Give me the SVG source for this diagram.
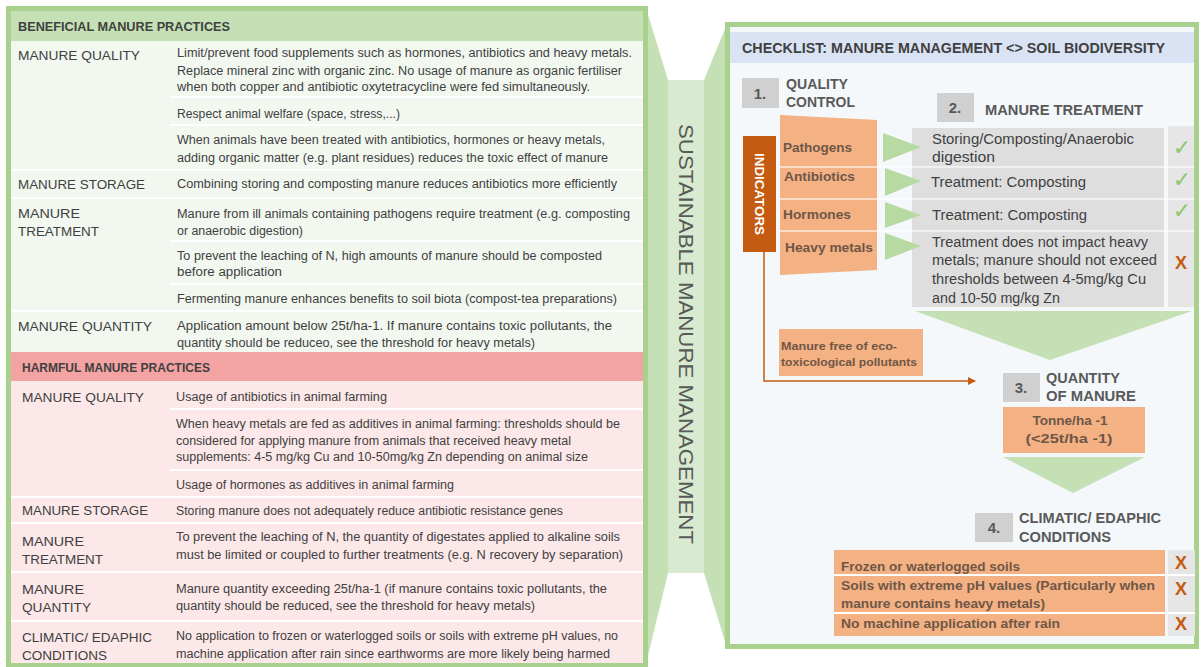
<svg xmlns="http://www.w3.org/2000/svg" width="1201" height="667" viewBox="0 0 1201 667">
<defs>
<style>
text{font-family:"Liberation Sans",Arial,sans-serif;}
.lbl{font-size:13px;fill:#404040;}
.d{font-size:12.5px;fill:#404040;}
.hd{font-size:13px;font-weight:bold;fill:#404040;}
.st{font-size:14px;font-weight:bold;fill:#595959;}
.num{font-size:15px;font-weight:bold;fill:#595959;}
.ind{font-size:13px;font-weight:bold;fill:#6f5747;}
.tr{font-size:14px;fill:#404040;}
.cond{font-size:13px;font-weight:bold;fill:#6f5747;}
.chk{font-family:"DejaVu Sans",sans-serif;font-size:22px;fill:#8cc56e;}
.x{font-size:18px;font-weight:bold;fill:#c55a11;}
.sep{stroke:#ffffff;stroke-width:2;}
.gbox{fill:#d0d0d0;}
.orange{fill:#f4b183;}
.garrow{fill:#b7d9a2;}
.chev{fill:#c5e0b4;}
</style>
<marker id="ah" markerWidth="8" markerHeight="8" refX="7" refY="4" orient="auto" markerUnits="userSpaceOnUse">
<path d="M0,0 L8,4 L0,8 Z" fill="#c55a11"/>
</marker>
</defs>
<rect width="1201" height="667" fill="#ffffff"/>

<!-- Middle band -->
<g id="middle-band">
<polygon points="646,8 668,80 668,573 646,664" fill="#c5e0b4"/>
<polygon points="704,80 727,24 727,648 704,573" fill="#c5e0b4"/>
<rect x="668" y="80" width="36" height="493" fill="#d8eacf"/>
<text transform="translate(679,334) rotate(90)" text-anchor="middle" style="font-size:20px;fill:#595959;" textLength="420" lengthAdjust="spacingAndGlyphs">SUSTAINABLE MANURE MANAGEMENT</text>
</g>

<!-- Left panel -->
<g id="left-panel">
<rect x="8.5" y="8.5" width="637" height="656" fill="#f2f8f0" stroke="#a9d18e" stroke-width="5"/>
<rect x="11" y="11" width="632" height="30" fill="#c5e0b4"/>
<text class="hd" x="18" y="31" textLength="212" lengthAdjust="spacingAndGlyphs">BENEFICIAL MANURE PRACTICES</text>
<g id="beneficial-rows">
<line class="sep" x1="170" y1="97" x2="643" y2="97"/>
<line class="sep" x1="170" y1="125" x2="643" y2="125"/>
<line class="sep" x1="11" y1="170" x2="643" y2="170"/>
<line class="sep" x1="11" y1="198" x2="643" y2="198"/>
<line class="sep" x1="170" y1="241" x2="643" y2="241"/>
<line class="sep" x1="170" y1="284" x2="643" y2="284"/>
<line class="sep" x1="11" y1="311" x2="643" y2="311"/>
<text class="lbl" x="18" y="60" textLength="122" lengthAdjust="spacingAndGlyphs">MANURE QUALITY</text>
<text class="d" x="177" y="57" textLength="455" lengthAdjust="spacingAndGlyphs">Limit/prevent food supplements such as hormones, antibiotics and heavy metals.</text>
<text class="d" x="177" y="75" textLength="445" lengthAdjust="spacingAndGlyphs">Replace mineral zinc with organic zinc. No usage of manure as organic fertiliser</text>
<text class="d" x="177" y="91" textLength="413" lengthAdjust="spacingAndGlyphs">when both copper and antibiotic oxytetracycline were fed simultaneously.</text>
<text class="d" x="177" y="118" textLength="223" lengthAdjust="spacingAndGlyphs">Respect animal welfare (space, stress,...)</text>
<text class="d" x="177" y="144" textLength="428" lengthAdjust="spacingAndGlyphs">When animals have been treated with antibiotics, hormones or heavy metals,</text>
<text class="d" x="177" y="162" textLength="431" lengthAdjust="spacingAndGlyphs">adding organic matter (e.g. plant residues) reduces the toxic effect of manure</text>
<text class="lbl" x="18" y="189" textLength="127" lengthAdjust="spacingAndGlyphs">MANURE STORAGE</text>
<text class="d" x="177" y="188" textLength="440" lengthAdjust="spacingAndGlyphs">Combining storing and composting manure reduces antibiotics more efficiently</text>
<text class="lbl" x="18" y="218" textLength="62" lengthAdjust="spacingAndGlyphs">MANURE</text>
<text class="lbl" x="18" y="236" textLength="81" lengthAdjust="spacingAndGlyphs">TREATMENT</text>
<text class="d" x="177" y="218" textLength="453" lengthAdjust="spacingAndGlyphs">Manure from ill animals containing pathogens require treatment (e.g. composting</text>
<text class="d" x="177" y="235" textLength="126" lengthAdjust="spacingAndGlyphs">or anaerobic digestion)</text>
<text class="d" x="177" y="260" textLength="425" lengthAdjust="spacingAndGlyphs">To prevent the  leaching of N, high amounts of manure should be composted</text>
<text class="d" x="177" y="276" textLength="105" lengthAdjust="spacingAndGlyphs">before application</text>
<text class="d" x="177" y="303" textLength="440" lengthAdjust="spacingAndGlyphs">Fermenting manure enhances benefits to soil biota (compost-tea preparations)</text>
<text class="lbl" x="18" y="331" textLength="134" lengthAdjust="spacingAndGlyphs">MANURE QUANTITY</text>
<text class="d" x="177" y="330" textLength="435" lengthAdjust="spacingAndGlyphs">Application amount below 25t/ha-1. If manure contains toxic pollutants, the</text>
<text class="d" x="177" y="347" textLength="358" lengthAdjust="spacingAndGlyphs">quantity should be reduceo, see the threshold for heavy metals)</text>
</g>
<rect x="11" y="352" width="632" height="29" fill="#f4a3a3"/>
<text class="hd" x="22" y="372" textLength="188" lengthAdjust="spacingAndGlyphs">HARMFUL MANURE PRACTICES</text>
<rect x="11" y="381" width="632" height="282" fill="#fce8e9"/>
<g id="harmful-rows">
<line class="sep" x1="170" y1="409" x2="643" y2="409"/>
<line class="sep" x1="170" y1="470" x2="643" y2="470"/>
<line class="sep" x1="11" y1="497" x2="643" y2="497"/>
<line class="sep" x1="11" y1="523" x2="643" y2="523"/>
<line class="sep" x1="11" y1="572" x2="643" y2="572"/>
<line class="sep" x1="11" y1="621" x2="643" y2="621"/>
<text class="lbl" x="22" y="402" textLength="122" lengthAdjust="spacingAndGlyphs">MANURE QUALITY</text>
<text class="d" x="176" y="401" textLength="211" lengthAdjust="spacingAndGlyphs">Usage of antibiotics in animal farming</text>
<text class="d" x="176" y="428" textLength="444" lengthAdjust="spacingAndGlyphs">When heavy metals are fed as additives in animal farming: thresholds should be</text>
<text class="d" x="176" y="445" textLength="395" lengthAdjust="spacingAndGlyphs">considered for applying manure from animals that received heavy metal</text>
<text class="d" x="176" y="461" textLength="412" lengthAdjust="spacingAndGlyphs">supplements: 4-5 mg/kg Cu and 10-50mg/kg Zn depending on animal size</text>
<text class="d" x="176" y="489" textLength="278" lengthAdjust="spacingAndGlyphs">Usage of hormones as additives in animal farming</text>
<text class="lbl" x="22" y="515" textLength="126" lengthAdjust="spacingAndGlyphs">MANURE STORAGE</text>
<text class="d" x="176" y="515" textLength="387" lengthAdjust="spacingAndGlyphs">Storing manure does not adequately reduce antibiotic resistance genes</text>
<text class="lbl" x="22" y="546" textLength="62" lengthAdjust="spacingAndGlyphs">MANURE</text>
<text class="lbl" x="22" y="564" textLength="81" lengthAdjust="spacingAndGlyphs">TREATMENT</text>
<text class="d" x="176" y="541" textLength="444" lengthAdjust="spacingAndGlyphs">To prevent the  leaching of N, the quantity of digestates applied to alkaline soils</text>
<text class="d" x="176" y="559" textLength="447" lengthAdjust="spacingAndGlyphs">must be  limited or coupled to further treatments (e.g. N recovery by separation)</text>
<text class="lbl" x="22" y="594" textLength="62" lengthAdjust="spacingAndGlyphs">MANURE</text>
<text class="lbl" x="22" y="612" textLength="69" lengthAdjust="spacingAndGlyphs">QUANTITY</text>
<text class="d" x="176" y="593" textLength="431" lengthAdjust="spacingAndGlyphs">Manure quantity exceeding 25t/ha-1 (if manure contains toxic pollutants, the</text>
<text class="d" x="176" y="610" textLength="359" lengthAdjust="spacingAndGlyphs">quantity should be reduced, see the threshold for heavy metals)</text>
<text class="lbl" x="22" y="642" textLength="130" lengthAdjust="spacingAndGlyphs">CLIMATIC/ EDAPHIC</text>
<text class="lbl" x="22" y="660" textLength="85" lengthAdjust="spacingAndGlyphs">CONDITIONS</text>
<text class="d" x="176" y="640" textLength="442" lengthAdjust="spacingAndGlyphs">No application to frozen or waterlogged soils or soils with extreme pH values, no</text>
<text class="d" x="176" y="658" textLength="434" lengthAdjust="spacingAndGlyphs">machine application after rain since earthworms are more likely being harmed</text>
</g>
</g>

<!-- Right panel -->
<g id="right-panel">
<rect x="727.5" y="24.5" width="469" height="622" fill="#f4f8fb" stroke="#a9d18e" stroke-width="5"/>
<rect x="730" y="32" width="464" height="31" fill="#dae3f3"/>
<text class="hd" x="742" y="53" style="font-size:14px" textLength="423" lengthAdjust="spacingAndGlyphs">CHECKLIST: MANURE MANAGEMENT &lt;&gt; SOIL BIODIVERSITY</text>
</g>

<g id="step1">
<rect class="gbox" x="742" y="78" width="37" height="30"/>
<text class="num" x="760" y="99" text-anchor="middle">1.</text>
<text class="st" x="786" y="89" textLength="62" lengthAdjust="spacingAndGlyphs">QUALITY</text>
<text class="st" x="786" y="107" textLength="69" lengthAdjust="spacingAndGlyphs">CONTROL</text>
</g>

<g id="indicators">
<polygon class="orange" points="780,115 877,120 877,270 780,275"/>
<rect x="743" y="136" width="33" height="116" fill="#c55a11"/>
<text transform="translate(755,194) rotate(90)" text-anchor="middle" style="font-size:12px;font-weight:bold;fill:#ffffff;" textLength="82" lengthAdjust="spacingAndGlyphs">INDICATORS</text>
<text class="ind" x="783" y="152" textLength="69" lengthAdjust="spacingAndGlyphs">Pathogens</text>
<text class="ind" x="784" y="181" textLength="71" lengthAdjust="spacingAndGlyphs">Antibiotics</text>
<text class="ind" x="783" y="219" textLength="68" lengthAdjust="spacingAndGlyphs">Hormones</text>
<text class="ind" x="785" y="252" textLength="88" lengthAdjust="spacingAndGlyphs">Heavy metals</text>
</g>

<g id="step2">
<rect class="gbox" x="937" y="93" width="37" height="29"/>
<text class="num" x="955" y="113" text-anchor="middle">2.</text>
<text class="st" x="985" y="115" style="font-size:15px" textLength="158" lengthAdjust="spacingAndGlyphs">MANURE TREATMENT</text>
</g>

<g id="treatments">
<rect x="912" y="128" width="252" height="179" fill="#dedede"/>
<rect x="1168" y="126" width="26" height="181" fill="#e6e6e6"/>
<text class="tr" x="932" y="144" textLength="202" lengthAdjust="spacingAndGlyphs">Storing/Composting/Anaerobic</text>
<text class="tr" x="932" y="162" textLength="63" lengthAdjust="spacingAndGlyphs">digestion</text>
<text class="tr" x="931" y="187" textLength="155" lengthAdjust="spacingAndGlyphs">Treatment: Composting</text>
<text class="tr" x="932" y="220" textLength="155" lengthAdjust="spacingAndGlyphs">Treatment: Composting</text>
<text class="tr" x="932" y="247" textLength="216" lengthAdjust="spacingAndGlyphs">Treatment does not impact heavy</text>
<text class="tr" x="932" y="265" textLength="225" lengthAdjust="spacingAndGlyphs">metals;  manure should not exceed</text>
<text class="tr" x="932" y="284" textLength="214" lengthAdjust="spacingAndGlyphs">thresholds between 4-5mg/kg Cu</text>
<text class="tr" x="932" y="303" textLength="128" lengthAdjust="spacingAndGlyphs">and 10-50 mg/kg Zn</text>
<text class="chk" x="1182" y="155" text-anchor="middle">✓</text>
<text class="chk" x="1182" y="187" text-anchor="middle">✓</text>
<text class="chk" x="1182" y="218" text-anchor="middle">✓</text>
<text class="x" x="1181" y="269" text-anchor="middle">X</text>
</g>

<g id="row-lines" stroke="#ffffff" stroke-opacity="0.75" stroke-width="1.5">
<line x1="780" y1="167" x2="1194" y2="167"/>
<line x1="780" y1="199" x2="1194" y2="199"/>
<line x1="780" y1="231" x2="1194" y2="231"/>
</g>

<g id="eco-free">
<rect class="orange" x="779" y="329" width="144" height="47"/>
<text class="ind" x="781" y="350" style="font-size:11.5px" textLength="116" lengthAdjust="spacingAndGlyphs">Manure free of eco-</text>
<text class="ind" x="781" y="366" style="font-size:11.5px" textLength="136" lengthAdjust="spacingAndGlyphs">toxicological  pollutants</text>
</g>

<g id="step3">
<rect class="gbox" x="1003" y="373" width="37" height="29"/>
<text class="num" x="1021" y="393" text-anchor="middle">3.</text>
<text class="st" x="1046" y="383" textLength="74" lengthAdjust="spacingAndGlyphs">QUANTITY</text>
<text class="st" x="1046" y="401" textLength="90" lengthAdjust="spacingAndGlyphs">OF MANURE</text>
<rect class="orange" x="1003" y="407" width="142" height="46"/>
<text class="cond" x="1070" y="425" text-anchor="middle" textLength="75" lengthAdjust="spacingAndGlyphs">Tonne/ha -1</text>
<text class="cond" x="1069" y="443" text-anchor="middle" textLength="87" lengthAdjust="spacingAndGlyphs">(&lt;25t/ha  -1)</text>
</g>

<g id="step4">
<rect class="gbox" x="975" y="513" width="38" height="29"/>
<text class="num" x="994" y="533" text-anchor="middle">4.</text>
<text class="st" x="1019" y="523" textLength="142" lengthAdjust="spacingAndGlyphs">CLIMATIC/ EDAPHIC</text>
<text class="st" x="1019" y="542" textLength="92" lengthAdjust="spacingAndGlyphs">CONDITIONS</text>
<rect class="orange" x="834" y="550" width="331" height="86"/>
<rect x="1168" y="550" width="27" height="86" fill="#e6e6e6"/>
<line class="sep" x1="834" y1="575" x2="1195" y2="575" stroke-width="1.5"/>
<line class="sep" x1="834" y1="613" x2="1195" y2="613" stroke-width="1.5"/>
<text class="cond" x="841" y="571" textLength="179" lengthAdjust="spacingAndGlyphs">Frozen or waterlogged soils</text>
<text class="cond" x="841" y="590" textLength="314" lengthAdjust="spacingAndGlyphs">Soils with extreme pH values (Particularly when</text>
<text class="cond" x="841" y="608" textLength="204" lengthAdjust="spacingAndGlyphs">manure contains heavy metals)</text>
<text class="cond" x="841" y="628" textLength="219" lengthAdjust="spacingAndGlyphs">No machine application after rain</text>
<text class="x" x="1181" y="569" text-anchor="middle">X</text>
<text class="x" x="1181" y="595" text-anchor="middle">X</text>
<text class="x" x="1181" y="630" text-anchor="middle">X</text>
</g>

<g id="connectors">
<polygon class="garrow" points="883,133 921,147 883,162"/>
<polygon class="garrow" points="885,168 921,181 885,196"/>
<polygon class="garrow" points="885,202 921,215 885,228"/>
<polygon class="garrow" points="885,233 921,246 885,260"/>
<polygon class="chev" points="915,311 1192,311 1050,360"/>
<polygon class="chev" points="1003,457 1145,457 1073,493"/>
<polyline points="764,252 764,381 975,381" fill="none" stroke="#c55a11" stroke-width="1.5" marker-end="url(#ah)"/>
</g>
</svg>
